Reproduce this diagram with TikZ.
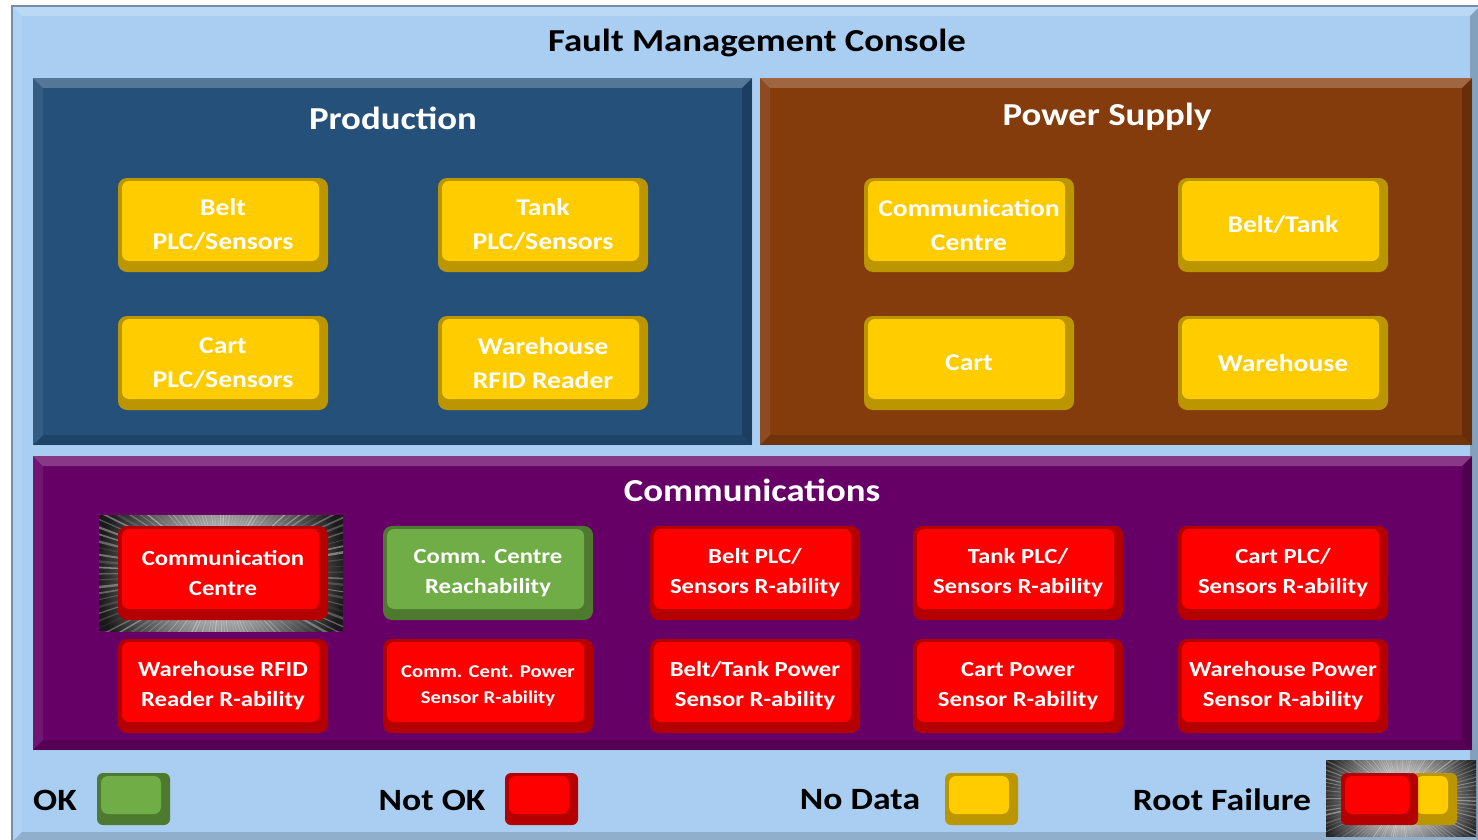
\documentclass[tikz,border=0pt]{standalone}
\usepackage{fontspec}
\setmainfont{Carlito}[FakeStretch=1.15]
\usetikzlibrary{calc}

\definecolor{consolebg}{RGB}{169,206,242}
\definecolor{consoleedge}{RGB}{118,142,170}
\definecolor{prodblue}{RGB}{36,80,122}
\definecolor{powerbrown}{RGB}{132,60,12}
\definecolor{commpurple}{RGB}{102,0,102}
\definecolor{nodata}{RGB}{255,204,0}
\definecolor{nodataedge}{RGB}{188,150,0}
\definecolor{notok}{RGB}{255,0,0}
\definecolor{notokedge}{RGB}{180,0,0}
\definecolor{okgreen}{RGB}{112,173,71}
\definecolor{okedge}{RGB}{78,122,48}

\tikzset{
  panel/.style={fill=#1, inner sep=0pt, path picture={
      \coordinate (nw) at (path picture bounding box.north west);
      \coordinate (ne) at (path picture bounding box.north east);
      \coordinate (sw) at (path picture bounding box.south west);
      \coordinate (se) at (path picture bounding box.south east);
      \fill[white, opacity=.22] (nw) -- (ne) -- ++(-10pt,-10pt) -- ($(nw)+(10pt,-10pt)$) -- cycle;
      \fill[white, opacity=.08] (nw) -- ($(nw)+(10pt,-10pt)$) -- ($(sw)+(10pt,10pt)$) -- (sw) -- cycle;
      \fill[black, opacity=.22] (ne) -- (se) -- ++(-10pt,10pt) -- ($(ne)+(-10pt,-10pt)$) -- cycle;
      \fill[black, opacity=.15] (sw) -- (se) -- ++(-10pt,10pt) -- ($(sw)+(10pt,10pt)$) -- cycle;
  }},
  paneltitle/.style={text=white, font=\bfseries\fontsize{32}{36}\selectfont},
  consoletitle/.style={text=black, font=\bfseries\fontsize{32}{36}\selectfont},
  legendtext/.style={text=black, font=\bfseries\fontsize{31}{34}\selectfont},
  boxface/.style={path picture={
      \fill[#1, rounded corners=7pt] ($(path picture bounding box.north west)+(4pt,-3pt)$) rectangle ($(path picture bounding box.south east)+(-9pt,11pt)$);
  }},
  statebox/.style={rounded corners=9pt, minimum width=210pt, minimum height=94pt, inner sep=0pt, align=center, text=white, font=\bfseries\fontsize{24}{34}\selectfont},
  commtext/.style={font=\bfseries\fontsize{21.5}{30}\selectfont},
  nodatabox/.style={statebox, fill=nodataedge, boxface=nodata},
  notokbox/.style={statebox, fill=notokedge, boxface=notok},
  okbox/.style={statebox, fill=okedge, boxface=okgreen},
  swatch/.style={rounded corners=6pt, minimum height=52pt, inner sep=0pt},
  glow/.style={inner sep=0pt, path picture={
      \fill[black!90] (path picture bounding box.south west) rectangle (path picture bounding box.north east);
      \shade[inner color=white, outer color=black!90] (path picture bounding box.center) circle (#1);
      \foreach \a in {0,3,...,357}{
        \pgfmathsetmacro\op{0.05+0.35*rnd}
        \pgfmathsetmacro\wd{1+4*rnd}
        \fill[white, opacity=\op] (path picture bounding box.center) -- ++(\a:220pt) -- ++(\a+90:\wd pt) -- cycle;
      }
  }}
}

\begin{document}
\begin{tikzpicture}[x=1pt, y=-1pt]
\useasboundingbox (0,0) rectangle (1478,840);
\fill[white] (0,0) rectangle (1478,840);

\node[panel=consolebg, minimum width=1468, minimum height=836, draw=consoleedge, line width=2pt] (console) at (746,424) {};
\node[consoletitle] (maintitle) at (757,43) {Fault Management Console};

\node[panel=prodblue, minimum width=719, minimum height=367] (production) at (392.5,261.5) {};
\node[panel=powerbrown, minimum width=712, minimum height=367] (power) at (1116,261.5) {};
\node[panel=commpurple, minimum width=1439, minimum height=294] (comms) at (752.5,603) {};

\node[paneltitle] (prodtitle) at (393,118) {Production};
\node[paneltitle] (powertitle) at (1107,117) {Power Supply};
\node[paneltitle] (commtitle) at (752,490) {Communications};

\node[nodatabox] (beltplc) at (223,225) {Belt\\PLC/Sensors};
\node[nodatabox] (tankplc) at (543,225) {Tank\\PLC/Sensors};
\node[nodatabox] (cartplc) at (223,363) {Cart\\PLC/Sensors};
\node[nodatabox] (rfid) at (543,363) {Warehouse\\RFID Reader};

\node[nodatabox] (pwrcentre) at (969,225) {Communication\\Centre};
\node[nodatabox] (pwrbelttank) at (1283,225) {Belt/Tank};
\node[nodatabox] (pwrcart) at (969,363) {Cart};
\node[nodatabox] (pwrwarehouse) at (1283,363) {Warehouse};

\node[glow=125pt, minimum width=244, minimum height=116] (rootglow) at (221,573) {};
\node[notokbox, commtext] (commcentre) at (223,573) {Communication\\Centre};
\node[okbox, commtext] (reach) at (488,573) {Comm. Centre\\Reachability};
\node[notokbox, commtext] (beltreach) at (755,573) {Belt PLC/\\Sensors R-ability};
\node[notokbox, commtext] (tankreach) at (1018,573) {Tank PLC/\\Sensors R-ability};
\node[notokbox, commtext] (cartreach) at (1283,573) {Cart PLC/\\Sensors R-ability};

\node[notokbox, commtext] (rfidreach) at (223,686) {Warehouse RFID\\Reader R-ability};
\node[notokbox, font=\bfseries\fontsize{18}{26}\selectfont] (centpower) at (488,686) {Comm. Cent. Power\\Sensor R-ability};
\node[notokbox, commtext] (belttankpower) at (755,686) {Belt/Tank Power\\Sensor R-ability};
\node[notokbox, commtext] (cartpower) at (1018,686) {Cart Power\\Sensor R-ability};
\node[notokbox, commtext] (warehousepower) at (1283,686) {Warehouse Power\\Sensor R-ability};

\node[legendtext] (oklabel) at (55,800) {OK};
\node[swatch, fill=okedge, boxface=okgreen, minimum width=73] (okswatch) at (133.5,799) {};
\node[legendtext] (notoklabel) at (432,800) {Not OK};
\node[swatch, fill=notokedge, boxface=notok, minimum width=73] (notokswatch) at (541.5,799) {};
\node[legendtext] (nodatalabel) at (860,800) {No Data};
\node[swatch, fill=nodataedge, boxface=nodata, minimum width=73] (nodataswatch) at (981.5,799) {};
\node[legendtext] (rootlabel) at (1222,800) {Root Failure};
\node[glow=85pt, minimum width=150, minimum height=76] (legendglow) at (1401,798) {};
\node[swatch, fill=nodataedge, boxface=nodata, minimum width=45] (rootyellow) at (1434.5,799) {};
\node[swatch, fill=notokedge, boxface=notok, minimum width=77] (rootred) at (1379.5,799) {};
\end{tikzpicture}
\end{document}
